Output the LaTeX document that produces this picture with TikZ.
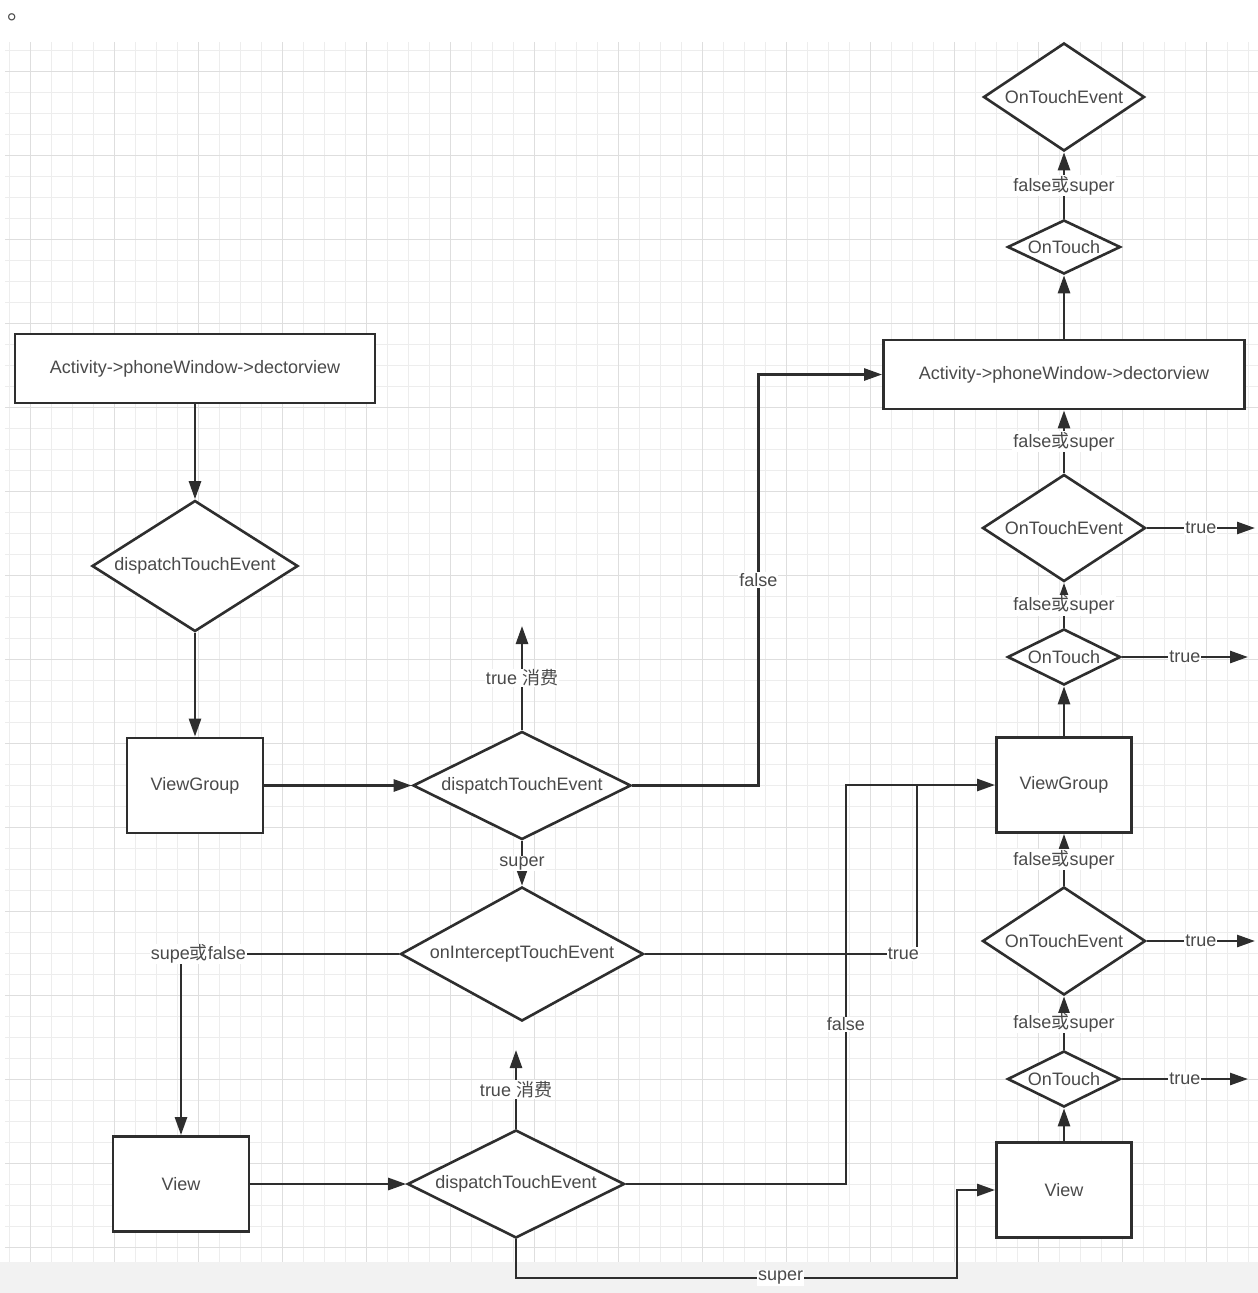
\documentclass[tikz,border=0pt]{standalone}
\usepackage{fontspec}
\setmainfont{Liberation Sans}
\newfontfamily\cjk{Noto Sans CJK SC}
\usepackage{tikz}
\usetikzlibrary{shapes.geometric,arrows.meta}
\definecolor{ink}{HTML}{2E2E2E}
\definecolor{txt}{HTML}{4A4A4A}
\definecolor{gridmin}{HTML}{EDEDED}
\definecolor{gridmaj}{HTML}{DEDEDE}
\definecolor{strip}{HTML}{F2F2F2}
\tikzset{
  box/.style={draw=ink, line width=2.8pt, fill=white, text=txt, inner sep=0pt},
  dia/.style={diamond, aspect=2, draw=ink, line width=2.6pt, fill=white, text=txt, inner sep=0pt},
  lbl/.style={midway, fill=white, text=txt, inner sep=1pt},
}
\begin{document}
\begin{tikzpicture}[x=1pt, y=-1pt, color=ink, line width=2.6pt,
    font=\fontsize{18}{21}\selectfont, >={Triangle[length=18pt,width=12pt]}]
      \useasboundingbox (0,0) rectangle (1258,1293);
      % paper and grid
      \fill[white] (0,0) rectangle (1258,1293);
      \fill[strip] (0,1262) rectangle (1258,1293);
      \foreach \gx in {9,30,...,1254} \draw[gridmin, line width=.8pt] (\gx,42) -- (\gx,1262);
      \foreach \gy in {50,71,...,1260} \draw[gridmin, line width=.8pt] (5,\gy) -- (1258,\gy);
      \foreach \gx in {30,114,...,1254} \draw[gridmaj, line width=1pt] (\gx,42) -- (\gx,1262);
      \foreach \gy in {71,155,...,1260} \draw[gridmaj, line width=1pt] (5,\gy) -- (1258,\gy);
      \node[text=txt, font=\fontsize{24}{24}\selectfont] (dot) at (19,17) {\cjk 。};

      % left side
      \node[box, minimum width=360, minimum height=69] (act1) at (195,368.5) {Activity->phoneWindow->dectorview};
      \node[dia, minimum width=206, minimum height=131] (d1) at (195,566) {dispatchTouchEvent};
      \node[box, minimum width=136, minimum height=95] (vg1) at (195,785.5) {ViewGroup};
      \node[dia, minimum width=218, minimum height=108] (d2) at (522,785.5) {dispatchTouchEvent};
      \node[dia, minimum width=243, minimum height=134] (d3) at (522,954) {onInterceptTouchEvent};
      \node[box, minimum width=136, minimum height=95] (v1) at (181,1184) {View};
      \node[dia, minimum width=217, minimum height=108] (d4) at (516,1184) {dispatchTouchEvent};

      % right side
      \node[dia, minimum width=161, minimum height=108] (ote1) at (1064,97) {OnTouchEvent};
      \node[dia, minimum width=113, minimum height=54] (ot1) at (1064,247) {OnTouch};
      \node[box, minimum width=361, minimum height=69] (act2) at (1064,374.5) {Activity->phoneWindow->dectorview};
      \node[dia, minimum width=163, minimum height=107] (ote2) at (1064,528) {OnTouchEvent};
      \node[dia, minimum width=113, minimum height=56] (ot2) at (1064,657) {OnTouch};
      \node[box, minimum width=135, minimum height=95] (vg2) at (1064,785) {ViewGroup};
      \node[dia, minimum width=163, minimum height=108] (ote3) at (1064,941) {OnTouchEvent};
      \node[dia, minimum width=113, minimum height=56] (ot3) at (1064,1079) {OnTouch};
      \node[box, minimum width=135, minimum height=95] (v2) at (1064,1190) {View};

      \coordinate (up2) at (522,626);
      \coordinate (up4) at (516,1050);
      \coordinate (c1) at (917,785);
      \coordinate (s1) at (957,1278);
      \coordinate (t1) at (1255,528);
      \coordinate (t2) at (1248,657);
      \coordinate (t3) at (1255,941);
      \coordinate (t4) at (1248,1079);

      \draw[->] (act1) -- (d1);
      \draw[->] (d1) -- (vg1);
      \draw[->] (vg1) -- (d2);
      \draw[->] (d2.north) -- (up2) node[lbl] {true {\cjk 消费}};
      \draw[->] (d2.east) -- ++(126,0) |- (act2.west) node[lbl, pos=0.25] {false};
      \draw[->] (d2) -- (d3) node[lbl] {super};
      \draw[->] (d3.west) -| (v1.north) node[lbl, pos=0.46] {supe{\cjk 或}false};
      \draw (d3.east) -| (c1) node[lbl, pos=0.475] {true};
      \draw[->] (v1) -- (d4);
      \draw[->] (d4.north) -- (up4) node[lbl] {true {\cjk 消费}};
      \draw[->] (d4.east) -- ++(220,0) |- (vg2.west) node[lbl, pos=0.2] {false};
      \draw[->] (d4.south) |- (s1) node[lbl, pos=0.8] {super} |- (v2.west);

      \draw[->] (act2) -- (ot1);
      \draw[->] (ot1) -- (ote1) node[lbl] {false{\cjk 或}super};
      \draw[->] (ote2) -- (act2) node[lbl] {false{\cjk 或}super};
      \draw[->] (ot2) -- (ote2) node[lbl] {false{\cjk 或}super};
      \draw[->] (vg2) -- (ot2);
      \draw[->] (ote3) -- (vg2) node[lbl] {false{\cjk 或}super};
      \draw[->] (ot3) -- (ote3) node[lbl] {false{\cjk 或}super};
      \draw[->] (v2) -- (ot3);
      \draw[->] (ote2.east) -- (t1) node[lbl] {true};
      \draw[->] (ot2.east) -- (t2) node[lbl] {true};
      \draw[->] (ote3.east) -- (t3) node[lbl] {true};
      \draw[->] (ot3.east) -- (t4) node[lbl] {true};
    \end{tikzpicture}
\end{document}
